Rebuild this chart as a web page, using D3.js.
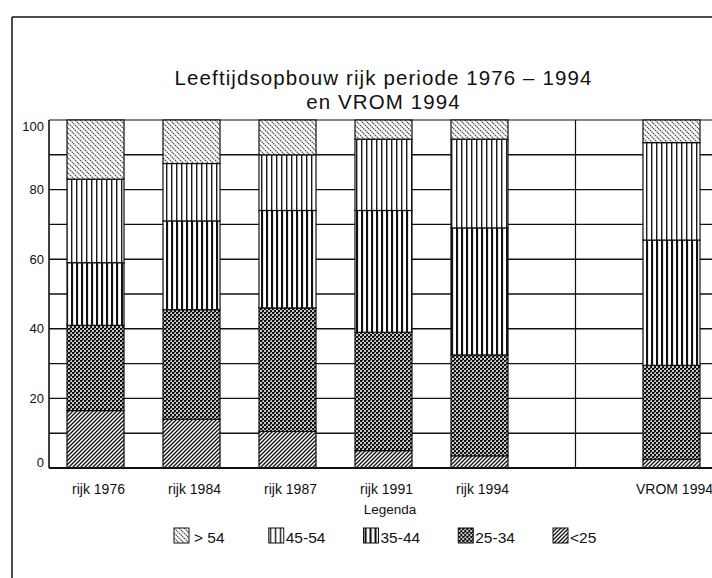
<!DOCTYPE html>
<html>
<head>
<meta charset="utf-8">
<script src="https://cdn.jsdelivr.net/npm/d3@7/dist/d3.min.js"></script>
<style>
  html, body { margin: 0; padding: 0; background: #fff; }
  svg { display: block; font-family: "Liberation Sans", Arial, Helvetica, sans-serif; }
</style>
</head>
<body>
<svg id="chart" width="712" height="578"></svg>
<script>
// ---- data ----
const slots = ["rijk 1976", "rijk 1984", "rijk 1987", "rijk 1991", "rijk 1994", "_gap", "VROM 1994"];
const categories = ["rijk 1976", "rijk 1984", "rijk 1987", "rijk 1991", "rijk 1994", "VROM 1994"];
const ageGroups = ["<25", "25-34", "35-44", "45-54", "> 54"];
const lt25   = [16.5, 14,   10.5,  5,   3.5, 2.5];
const a25_34 = [24.5, 31.5, 35.5, 34,  29,   27];
const a35_44 = [18,   25.5, 28,   35,  36.5, 36];
const a45_54 = [24,   16.5, 16,   20.5, 25.5, 28];
const gt54   = [17,   12.5, 10,   5.5,  5.5, 6.5];
const yTicks = [0, 20, 40, 60, 80, 100];
const gridValues = [10, 20, 30, 40, 50, 60, 70, 80, 90];
const titleLines = ["Leeftijdsopbouw rijk periode 1976 \u2013 1994", "en VROM 1994"];
const legendOrder = ["> 54", "45-54", "35-44", "25-34", "<25"];

const seriesValues = { "<25": lt25, "25-34": a25_34, "35-44": a35_44, "45-54": a45_54, "> 54": gt54 };
const table = categories.map((c, i) => {
  const row = { category: c };
  ageGroups.forEach(g => row[g] = seriesValues[g][i]);
  return row;
});

// ---- setup ----
const svg = d3.select("#chart");
const x = d3.scaleBand().domain(slots).range([49, 718]).paddingInner(0.406).paddingOuter(0.1875);
const y = d3.scaleLinear().domain([0, 100]).range([468, 120]);

const defs = svg.append("defs");
const patId = { "> 54": "p54", "45-54": "p4554", "35-44": "p3544", "25-34": "p2534", "<25": "p25" };

// > 54 : light backslash hatch
let p = defs.append("pattern").attr("id", "p54").attr("patternUnits", "userSpaceOnUse").attr("width", 5).attr("height", 5);
p.append("rect").attr("width", 5).attr("height", 5).attr("fill", "#fff");
p.append("path").attr("d", "M0,0L5,5M-1,4L1,6M4,-1L6,1").attr("stroke", "#444").attr("stroke-width", 1.1).attr("stroke-dasharray", "1.6,0.7");
// 45-54 : thin vertical lines
p = defs.append("pattern").attr("id", "p4554").attr("patternUnits", "userSpaceOnUse").attr("width", 5).attr("height", 5);
p.append("rect").attr("width", 5).attr("height", 5).attr("fill", "#fff");
p.append("rect").attr("x", 1).attr("width", 1.4).attr("height", 5).attr("fill", "#1a1a1a");
// 35-44 : heavier vertical lines
p = defs.append("pattern").attr("id", "p3544").attr("patternUnits", "userSpaceOnUse").attr("width", 5).attr("height", 5);
p.append("rect").attr("width", 5).attr("height", 5).attr("fill", "#fff");
p.append("rect").attr("x", 1).attr("width", 2.1).attr("height", 5).attr("fill", "#111");
// 25-34 : dense checker
p = defs.append("pattern").attr("id", "p2534").attr("patternUnits", "userSpaceOnUse").attr("width", 4).attr("height", 4);
p.append("rect").attr("width", 4).attr("height", 4).attr("fill", "#c8c8c8");
p.append("rect").attr("x", 0).attr("y", 0).attr("width", 2).attr("height", 2).attr("fill", "#111");
p.append("rect").attr("x", 2).attr("y", 2).attr("width", 2).attr("height", 2).attr("fill", "#111");
p.append("rect").attr("x", 2).attr("y", 0).attr("width", 1).attr("height", 1).attr("fill", "#444");
// <25 : forward slash hatch
p = defs.append("pattern").attr("id", "p25").attr("patternUnits", "userSpaceOnUse").attr("width", 4).attr("height", 4);
p.append("rect").attr("width", 4).attr("height", 4).attr("fill", "#fff");
p.append("path").attr("d", "M0,4L4,0M-1,1L1,-1M3,5L5,3").attr("stroke", "#111").attr("stroke-width", 1.3);

// ---- outer frame ----
svg.append("line").attr("x1", 12).attr("x2", 712).attr("y1", 17).attr("y2", 17).attr("stroke", "#111").attr("stroke-width", 1.5);
svg.append("line").attr("x1", 12).attr("x2", 12).attr("y1", 17).attr("y2", 578).attr("stroke", "#111").attr("stroke-width", 1.5);

// ---- title ----
svg.append("g").selectAll("text").data(titleLines).join("text")
  .attr("x", (x.range()[0] + x.range()[1]) / 2)
  .attr("y", (d, i) => 85 + i * 24)
  .attr("text-anchor", "middle")
  .attr("font-size", 20.5)
  .attr("letter-spacing", 1.1)
  .attr("fill", "#111")
  .text(d => d);

// ---- grid ----
const [xl, xr] = x.range();
svg.append("g").selectAll("line").data(gridValues).join("line")
  .attr("x1", xl).attr("x2", xr)
  .attr("y1", d => y(d)).attr("y2", d => y(d))
  .attr("stroke", "#111").attr("stroke-width", 1.4);
// top border
svg.append("line").attr("x1", xl).attr("x2", xr).attr("y1", y(100)).attr("y2", y(100)).attr("stroke", "#111").attr("stroke-width", 1.2);
// separator line in empty slot
svg.append("line")
  .attr("x1", x("_gap") + x.bandwidth() / 2).attr("x2", x("_gap") + x.bandwidth() / 2)
  .attr("y1", y(100)).attr("y2", y(0)).attr("stroke", "#111").attr("stroke-width", 1.2);

// ---- bars ----
const stacked = d3.stack().keys(ageGroups)(table);
const layers = svg.append("g").selectAll("g").data(stacked).join("g")
  .attr("fill", d => `url(#${patId[d.key]})`);
layers.selectAll("rect").data(d => d).join("rect")
  .attr("x", d => x(d.data.category))
  .attr("width", x.bandwidth())
  .attr("y", d => y(d[1]))
  .attr("height", d => y(d[0]) - y(d[1]))
  .attr("stroke", "#111").attr("stroke-width", 1.2);

// ---- axes ----
svg.append("line").attr("x1", xl).attr("x2", xl).attr("y1", y(100)).attr("y2", y(0)).attr("stroke", "#111").attr("stroke-width", 1.6);
svg.append("line").attr("x1", xl).attr("x2", xr).attr("y1", y(0)).attr("y2", y(0)).attr("stroke", "#111").attr("stroke-width", 2.2);

svg.append("g").selectAll("text").data(yTicks).join("text")
  .attr("x", xl - 5)
  .attr("y", d => Math.min(y(0) - 6, Math.max(y(100) + 6, y(d))))
  .attr("dy", "0.36em")
  .attr("text-anchor", "end")
  .attr("font-size", 13)
  .attr("fill", "#111")
  .text(d => d);

svg.append("g").selectAll("text").data(categories).join("text")
  .attr("x", d => x(d) + x.bandwidth() / 2 + 3)
  .attr("y", 494)
  .attr("text-anchor", "middle")
  .attr("font-size", 14)
  .attr("fill", "#111")
  .text(d => d);

// ---- legend ----
svg.append("text").attr("x", 390).attr("y", 514).attr("text-anchor", "middle")
  .attr("font-size", 13.5).attr("fill", "#111").text("Legenda");
const lx = d3.scalePoint().domain(legendOrder).range([174, 553]);
const li = svg.append("g").selectAll("g").data(legendOrder).join("g")
  .attr("transform", d => `translate(${lx(d)},528)`);
li.append("rect").attr("width", 15).attr("height", 15)
  .attr("fill", d => `url(#${patId[d]})`).attr("stroke", "#111").attr("stroke-width", 1);
li.append("text").attr("x", d => d === "> 54" ? 20 : 17).attr("y", 15)
  .attr("font-size", 15.5).attr("fill", "#111").text(d => d);
</script>
</body>
</html>
